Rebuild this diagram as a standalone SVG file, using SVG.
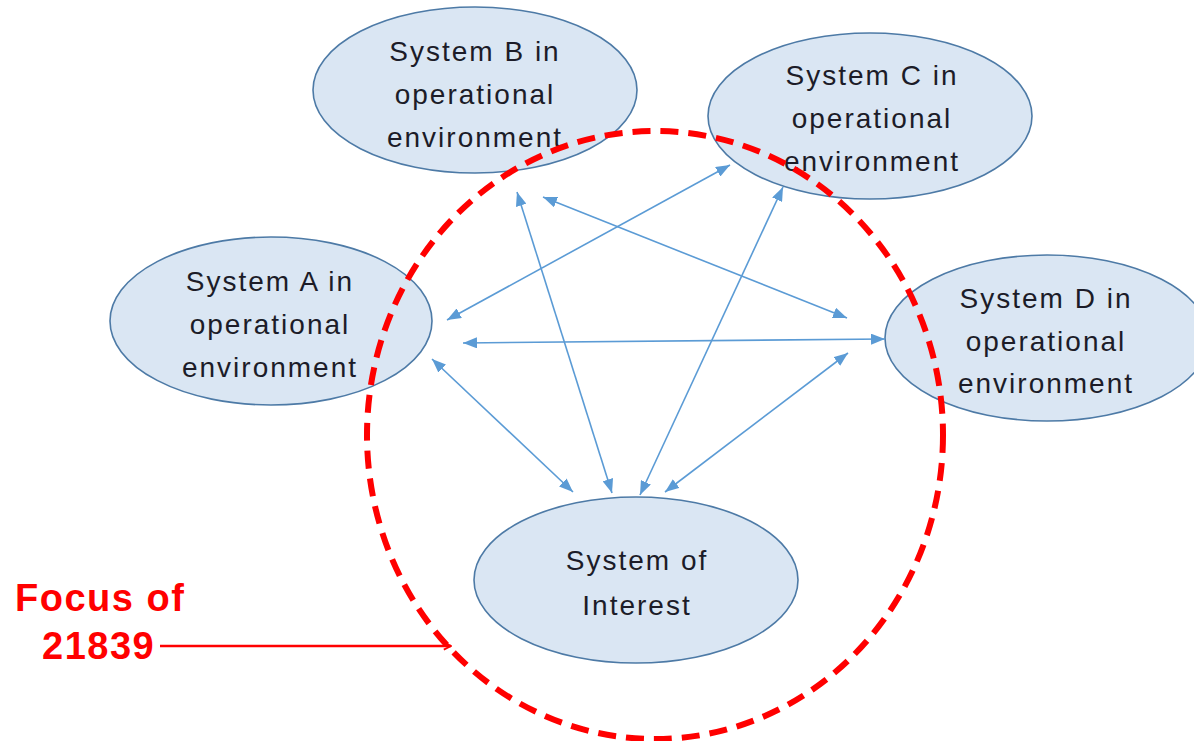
<svg xmlns="http://www.w3.org/2000/svg" width="1194" height="741" viewBox="0 0 1194 741">
<style>
.node ellipse{fill:#dae6f3;stroke:#4d7aa6;stroke-width:1.6}
.node text{font-family:"Liberation Sans",Arial,sans-serif;font-size:28px;letter-spacing:2px;fill:#1c1c28;text-anchor:middle}
.conn line{stroke:#5b9bd5;stroke-width:1.6;marker-start:url(#ah);marker-end:url(#ah)}
.focus{font-family:"Liberation Sans",Arial,sans-serif;font-weight:bold;font-size:38px;fill:#ff0000;letter-spacing:1.5px}
</style>
<defs>
<marker id="ah" viewBox="0 0 14 11" refX="14" refY="5.5" markerWidth="14" markerHeight="11" markerUnits="userSpaceOnUse" orient="auto-start-reverse">
<path d="M0,0 L14,5.5 L0,11 Z" fill="#5b9bd5"/>
</marker>
<marker id="oh" viewBox="0 0 10 10" refX="9" refY="5" markerWidth="9" markerHeight="9" markerUnits="userSpaceOnUse" orient="auto">
<path d="M1,1 L9,5 L1,9" fill="none" stroke="#ff0000" stroke-width="2"/>
</marker>
</defs>
<rect width="1194" height="741" fill="#ffffff"/>
<g id="node-b" class="node">
<ellipse cx="475" cy="90" rx="162" ry="83"/>
<text x="475" y="61">System B in</text>
<text x="475" y="104">operational</text>
<text x="475" y="147">environment</text>
</g>
<g id="node-c" class="node">
<ellipse cx="870" cy="116" rx="162" ry="83"/>
<text x="872" y="85">System C in</text>
<text x="872" y="128">operational</text>
<text x="872" y="171">environment</text>
</g>
<g id="node-a" class="node">
<ellipse cx="271" cy="321" rx="161" ry="84"/>
<text x="270" y="291">System A in</text>
<text x="270" y="334">operational</text>
<text x="270" y="377">environment</text>
</g>
<g id="node-d" class="node">
<ellipse cx="1047" cy="338" rx="162" ry="83"/>
<text x="1046" y="308">System D in</text>
<text x="1046" y="351">operational</text>
<text x="1046" y="393">environment</text>
</g>
<g id="node-soi" class="node">
<ellipse cx="636" cy="580" rx="162" ry="83"/>
<text x="637" y="570">System of</text>
<text x="637" y="615">Interest</text>
</g>
<g id="connectors" class="conn">
<line x1="517" y1="192" x2="612" y2="493"/>
<line x1="543" y1="197" x2="847" y2="318"/>
<line x1="730" y1="165" x2="447" y2="320"/>
<line x1="783" y1="187" x2="640" y2="495"/>
<line x1="463" y1="343" x2="885" y2="339"/>
<line x1="432" y1="359" x2="573" y2="492"/>
<line x1="848" y1="353" x2="665" y2="492"/>
</g>
<g id="focus">
<ellipse cx="655" cy="435" rx="288" ry="304" fill="none" stroke="#ff0000" stroke-width="6" stroke-dasharray="18 10"/>
<text class="focus" x="15" y="611">Focus of</text>
<text class="focus" x="42" y="659">21839</text>
<line x1="160" y1="646" x2="451" y2="646" stroke="#ff0000" stroke-width="2.5" marker-end="url(#oh)"/>
</g>
</svg>
